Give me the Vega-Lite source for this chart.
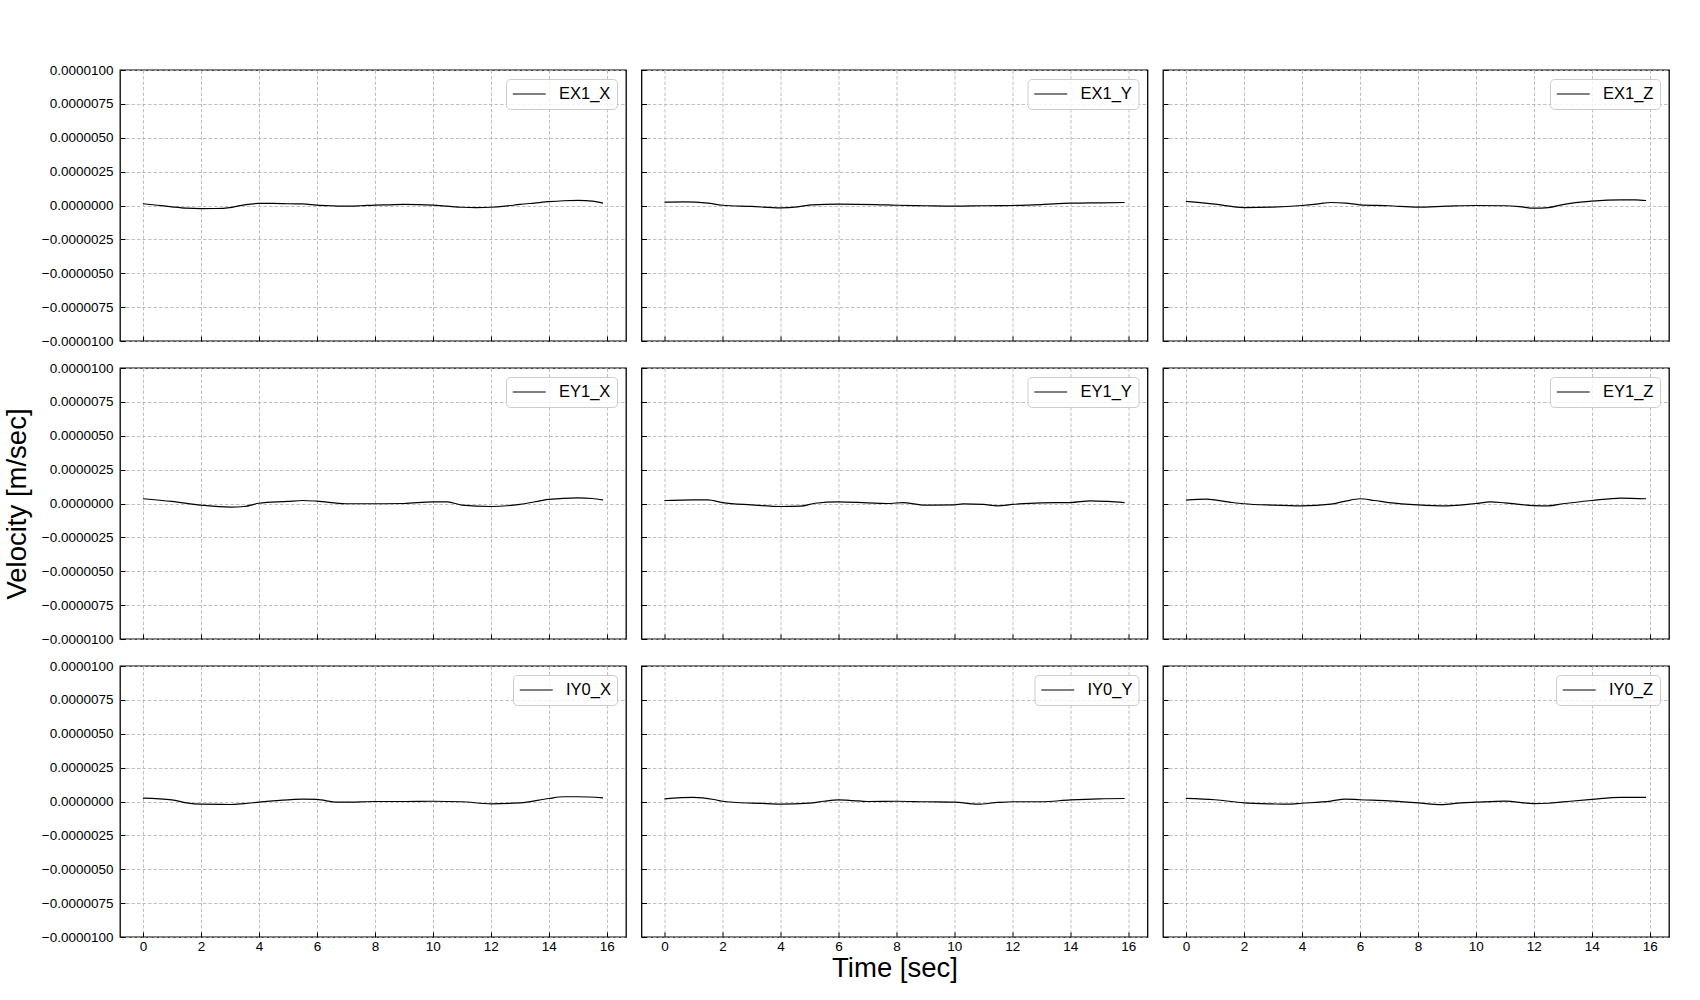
{
  "$schema": "https://vega.github.io/schema/vega-lite/v6.json",
  "padding": {"left": 2, "top": 62, "right": 5, "bottom": 5},
  "background": "white",
  "bounds": "flush",
  "columns": 3,
  "spacing": {"row": 27, "column": 15.5},
  "config": {
    "font": "Liberation Sans",
    "view": {"stroke": "#000000", "strokeWidth": 1.3, "continuousWidth": 506, "continuousHeight": 271},
    "axis": {"labelFont": "Liberation Sans", "labelFontSize": 13.5, "labelColor": "#000000", "titleFont": "Liberation Sans", "titleFontSize": 27.5, "titleFontWeight": "normal", "titleColor": "#000000", "gridColor": "#b0b0b0", "gridDash": [3.5, 2], "gridWidth": 0.8, "domain": false, "tickColor": "#000000", "tickSize": -5, "tickWidth": 1, "minExtent": 0},
    "axisY": {"labelPadding": 12, "titlePadding": 10},
    "axisX": {"labelPadding": 7, "titlePadding": 2},
    "legend": {"orient": "top-right", "offset": 9, "padding": 6, "strokeColor": "#cccccc", "fillColor": "rgba(255,255,255,0.8)", "cornerRadius": 4, "labelFont": "Liberation Sans", "labelFontSize": 16.5, "labelColor": "#000000", "symbolType": "M-1,0H3", "symbolSize": 272, "symbolStrokeWidth": 1.2, "labelOffset": 29}
  },
  "resolve": {"scale": {"color": "independent"}, "legend": {"color": "independent"}},
  "data": {"values": [
    {"s":"EX1_X","t":0,"v":1.3e-7},{"s":"EX1_X","t":0.5,"v":2e-8},{"s":"EX1_X","t":1,"v":-1e-7},{"s":"EX1_X","t":1.5,"v":-2e-7},{"s":"EX1_X","t":2,"v":-2.3e-7},{"s":"EX1_X","t":2.5,"v":-2.2e-7},{"s":"EX1_X","t":3,"v":-1.5e-7},{"s":"EX1_X","t":3.5,"v":5e-8},{"s":"EX1_X","t":4,"v":1.5e-7},{"s":"EX1_X","t":4.5,"v":1.6e-7},{"s":"EX1_X","t":5,"v":1.3e-7},{"s":"EX1_X","t":5.5,"v":1.2e-7},{"s":"EX1_X","t":6,"v":3e-8},{"s":"EX1_X","t":6.5,"v":-2e-8},{"s":"EX1_X","t":7,"v":-5e-8},{"s":"EX1_X","t":7.5,"v":-2e-8},{"s":"EX1_X","t":8,"v":3e-8},{"s":"EX1_X","t":8.5,"v":5e-8},{"s":"EX1_X","t":9,"v":8e-8},{"s":"EX1_X","t":9.5,"v":7e-8},{"s":"EX1_X","t":10,"v":3e-8},{"s":"EX1_X","t":10.5,"v":-5e-8},{"s":"EX1_X","t":11,"v":-1.3e-7},{"s":"EX1_X","t":11.5,"v":-1.5e-7},{"s":"EX1_X","t":12,"v":-1.3e-7},{"s":"EX1_X","t":12.5,"v":-5e-8},{"s":"EX1_X","t":13,"v":8e-8},{"s":"EX1_X","t":13.5,"v":1.8e-7},{"s":"EX1_X","t":14,"v":2.8e-7},{"s":"EX1_X","t":14.5,"v":3.5e-7},{"s":"EX1_X","t":15,"v":3.8e-7},{"s":"EX1_X","t":15.5,"v":3.3e-7},{"s":"EX1_X","t":15.87,"v":1.8e-7},
    {"s":"EX1_Y","t":0,"v":2.5e-7},{"s":"EX1_Y","t":0.7,"v":2.7e-7},{"s":"EX1_Y","t":1.5,"v":1.7e-7},{"s":"EX1_Y","t":2,"v":2e-8},{"s":"EX1_Y","t":3,"v":-7e-8},{"s":"EX1_Y","t":4,"v":-1.7e-7},{"s":"EX1_Y","t":4.6,"v":-1e-7},{"s":"EX1_Y","t":5.1,"v":5e-8},{"s":"EX1_Y","t":6,"v":1e-7},{"s":"EX1_Y","t":7.3,"v":7e-8},{"s":"EX1_Y","t":8,"v":2e-8},{"s":"EX1_Y","t":9,"v":-2e-8},{"s":"EX1_Y","t":10,"v":-5e-8},{"s":"EX1_Y","t":11,"v":-2e-8},{"s":"EX1_Y","t":12,"v":0},{"s":"EX1_Y","t":13,"v":7e-8},{"s":"EX1_Y","t":14,"v":1.7e-7},{"s":"EX1_Y","t":15.1,"v":2e-7},{"s":"EX1_Y","t":15.87,"v":2.2e-7},
    {"s":"EX1_Z","t":0,"v":3e-7},{"s":"EX1_Z","t":1,"v":1e-7},{"s":"EX1_Z","t":2,"v":-1.5e-7},{"s":"EX1_Z","t":3,"v":-1.2e-7},{"s":"EX1_Z","t":4,"v":0},{"s":"EX1_Z","t":4.5,"v":1e-7},{"s":"EX1_Z","t":5,"v":2.2e-7},{"s":"EX1_Z","t":5.5,"v":1.8e-7},{"s":"EX1_Z","t":6,"v":5e-8},{"s":"EX1_Z","t":7,"v":-2e-8},{"s":"EX1_Z","t":8,"v":-1.2e-7},{"s":"EX1_Z","t":9,"v":-5e-8},{"s":"EX1_Z","t":10,"v":0},{"s":"EX1_Z","t":11,"v":-2e-8},{"s":"EX1_Z","t":11.5,"v":-8e-8},{"s":"EX1_Z","t":12,"v":-2e-7},{"s":"EX1_Z","t":12.5,"v":-1.5e-7},{"s":"EX1_Z","t":13,"v":7e-8},{"s":"EX1_Z","t":14,"v":3.2e-7},{"s":"EX1_Z","t":15,"v":4.2e-7},{"s":"EX1_Z","t":15.5,"v":4.2e-7},{"s":"EX1_Z","t":15.87,"v":3.7e-7},
    {"s":"EY1_X","t":0,"v":3.5e-7},{"s":"EY1_X","t":1,"v":1.5e-7},{"s":"EY1_X","t":2,"v":-1.2e-7},{"s":"EY1_X","t":3,"v":-2.7e-7},{"s":"EY1_X","t":3.5,"v":-2.2e-7},{"s":"EY1_X","t":4,"v":2e-8},{"s":"EY1_X","t":5,"v":1.5e-7},{"s":"EY1_X","t":5.5,"v":2.2e-7},{"s":"EY1_X","t":6,"v":1.7e-7},{"s":"EY1_X","t":7,"v":-2e-8},{"s":"EY1_X","t":8,"v":-2e-8},{"s":"EY1_X","t":9,"v":0},{"s":"EY1_X","t":10,"v":1.2e-7},{"s":"EY1_X","t":10.5,"v":1.2e-7},{"s":"EY1_X","t":11,"v":-1.2e-7},{"s":"EY1_X","t":12,"v":-2.2e-7},{"s":"EY1_X","t":13,"v":-7e-8},{"s":"EY1_X","t":14,"v":3e-7},{"s":"EY1_X","t":15,"v":4.2e-7},{"s":"EY1_X","t":15.5,"v":3.7e-7},{"s":"EY1_X","t":15.87,"v":2.7e-7},
    {"s":"EY1_Y","t":0,"v":2.2e-7},{"s":"EY1_Y","t":1,"v":2.7e-7},{"s":"EY1_Y","t":1.5,"v":2.7e-7},{"s":"EY1_Y","t":2,"v":7e-8},{"s":"EY1_Y","t":3,"v":-1e-7},{"s":"EY1_Y","t":4,"v":-2.2e-7},{"s":"EY1_Y","t":4.7,"v":-2e-7},{"s":"EY1_Y","t":5.2,"v":2e-8},{"s":"EY1_Y","t":6,"v":1.2e-7},{"s":"EY1_Y","t":7,"v":5e-8},{"s":"EY1_Y","t":7.8,"v":0},{"s":"EY1_Y","t":8.2,"v":7e-8},{"s":"EY1_Y","t":9,"v":-1.2e-7},{"s":"EY1_Y","t":10,"v":-1e-7},{"s":"EY1_Y","t":10.3,"v":-3e-8},{"s":"EY1_Y","t":11,"v":-7e-8},{"s":"EY1_Y","t":11.5,"v":-1.7e-7},{"s":"EY1_Y","t":12,"v":-7e-8},{"s":"EY1_Y","t":13,"v":5e-8},{"s":"EY1_Y","t":14,"v":7e-8},{"s":"EY1_Y","t":14.7,"v":2e-7},{"s":"EY1_Y","t":15.3,"v":1.5e-7},{"s":"EY1_Y","t":15.87,"v":7e-8},
    {"s":"EY1_Z","t":0,"v":2.5e-7},{"s":"EY1_Z","t":0.7,"v":3.2e-7},{"s":"EY1_Z","t":1.5,"v":1e-7},{"s":"EY1_Z","t":2,"v":-2e-8},{"s":"EY1_Z","t":3,"v":-1.2e-7},{"s":"EY1_Z","t":4,"v":-1.7e-7},{"s":"EY1_Z","t":5,"v":-5e-8},{"s":"EY1_Z","t":5.5,"v":1.7e-7},{"s":"EY1_Z","t":6,"v":3.5e-7},{"s":"EY1_Z","t":6.5,"v":2.2e-7},{"s":"EY1_Z","t":7,"v":7e-8},{"s":"EY1_Z","t":8,"v":-1e-7},{"s":"EY1_Z","t":9,"v":-1.7e-7},{"s":"EY1_Z","t":10,"v":0},{"s":"EY1_Z","t":10.5,"v":1.2e-7},{"s":"EY1_Z","t":11,"v":5e-8},{"s":"EY1_Z","t":12,"v":-1.5e-7},{"s":"EY1_Z","t":12.5,"v":-1.7e-7},{"s":"EY1_Z","t":13,"v":-2e-8},{"s":"EY1_Z","t":14,"v":2.2e-7},{"s":"EY1_Z","t":15,"v":4e-7},{"s":"EY1_Z","t":15.87,"v":3.5e-7},
    {"s":"IY0_X","t":0,"v":2.5e-7},{"s":"IY0_X","t":1,"v":1.2e-7},{"s":"IY0_X","t":1.5,"v":-1e-7},{"s":"IY0_X","t":2,"v":-2e-7},{"s":"IY0_X","t":3,"v":-2.2e-7},{"s":"IY0_X","t":3.5,"v":-1.5e-7},{"s":"IY0_X","t":4,"v":-5e-8},{"s":"IY0_X","t":5,"v":1.2e-7},{"s":"IY0_X","t":5.5,"v":1.7e-7},{"s":"IY0_X","t":6,"v":1.5e-7},{"s":"IY0_X","t":6.7,"v":-5e-8},{"s":"IY0_X","t":7,"v":-5e-8},{"s":"IY0_X","t":8,"v":0},{"s":"IY0_X","t":9,"v":0},{"s":"IY0_X","t":10,"v":2e-8},{"s":"IY0_X","t":11,"v":-2e-8},{"s":"IY0_X","t":12,"v":-1.7e-7},{"s":"IY0_X","t":13,"v":-1e-7},{"s":"IY0_X","t":14,"v":2.2e-7},{"s":"IY0_X","t":14.5,"v":3.5e-7},{"s":"IY0_X","t":15,"v":3.5e-7},{"s":"IY0_X","t":15.87,"v":2.7e-7},
    {"s":"IY0_Y","t":0,"v":2e-7},{"s":"IY0_Y","t":1,"v":3e-7},{"s":"IY0_Y","t":1.7,"v":1.5e-7},{"s":"IY0_Y","t":2,"v":2e-8},{"s":"IY0_Y","t":3,"v":-1.2e-7},{"s":"IY0_Y","t":3.5,"v":-1.5e-7},{"s":"IY0_Y","t":4,"v":-2e-7},{"s":"IY0_Y","t":5,"v":-1.2e-7},{"s":"IY0_Y","t":5.5,"v":2e-8},{"s":"IY0_Y","t":6,"v":1.2e-7},{"s":"IY0_Y","t":6.5,"v":7e-8},{"s":"IY0_Y","t":7,"v":0},{"s":"IY0_Y","t":8,"v":2e-8},{"s":"IY0_Y","t":9,"v":-2e-8},{"s":"IY0_Y","t":10,"v":-5e-8},{"s":"IY0_Y","t":10.8,"v":-2e-7},{"s":"IY0_Y","t":11.5,"v":-7e-8},{"s":"IY0_Y","t":12,"v":-2e-8},{"s":"IY0_Y","t":13,"v":-2e-8},{"s":"IY0_Y","t":14,"v":1.2e-7},{"s":"IY0_Y","t":15,"v":2e-7},{"s":"IY0_Y","t":15.87,"v":2.2e-7},
    {"s":"IY0_Z","t":0,"v":2.3e-7},{"s":"IY0_Z","t":1,"v":1.3e-7},{"s":"IY0_Z","t":2,"v":-1e-7},{"s":"IY0_Z","t":3,"v":-1.8e-7},{"s":"IY0_Z","t":3.5,"v":-2e-7},{"s":"IY0_Z","t":4,"v":-1.3e-7},{"s":"IY0_Z","t":5,"v":3e-8},{"s":"IY0_Z","t":5.5,"v":1.8e-7},{"s":"IY0_Z","t":6,"v":1.3e-7},{"s":"IY0_Z","t":7,"v":5e-8},{"s":"IY0_Z","t":8,"v":-1e-7},{"s":"IY0_Z","t":8.8,"v":-2.3e-7},{"s":"IY0_Z","t":9.5,"v":-1e-7},{"s":"IY0_Z","t":10,"v":-5e-8},{"s":"IY0_Z","t":11,"v":3e-8},{"s":"IY0_Z","t":12,"v":-1.6e-7},{"s":"IY0_Z","t":12.5,"v":-1.3e-7},{"s":"IY0_Z","t":13,"v":-3e-8},{"s":"IY0_Z","t":14,"v":1.6e-7},{"s":"IY0_Z","t":15,"v":3.1e-7},{"s":"IY0_Z","t":15.87,"v":3.1e-7}
  ]},
  "concat": [
    {"width": 506, "height": 271, "transform": [{"filter": "datum.s === 'EX1_X'"}], "mark": {"type": "line", "strokeWidth": 1.2, "interpolate": "monotone"},
     "encoding": {"x": {"field": "t", "type": "quantitative", "scale": {"domain": [-0.79, 16.66], "nice": false, "zero": false}, "axis": {"values": [0,2,4,6,8,10,12,14,16], "labels": false, "title": null}},
                  "y": {"field": "v", "type": "quantitative", "scale": {"domain": [-1e-5, 1e-5], "nice": false}, "axis": {"values": [-1e-5,-7.5e-6,-5e-6,-2.5e-6,0,2.5e-6,5e-6,7.5e-6,1e-5], "format": ".7f", "title": null}},
                  "color": {"field": "s", "type": "nominal", "scale": {"range": ["#000000"]}, "legend": {"title": null}}}},
    {"width": 506, "height": 271, "transform": [{"filter": "datum.s === 'EX1_Y'"}], "mark": {"type": "line", "strokeWidth": 1.2, "interpolate": "monotone"},
     "encoding": {"x": {"field": "t", "type": "quantitative", "scale": {"domain": [-0.79, 16.66], "nice": false, "zero": false}, "axis": {"values": [0,2,4,6,8,10,12,14,16], "labels": false, "title": null}},
                  "y": {"field": "v", "type": "quantitative", "scale": {"domain": [-1e-5, 1e-5], "nice": false}, "axis": {"values": [-1e-5,-7.5e-6,-5e-6,-2.5e-6,0,2.5e-6,5e-6,7.5e-6,1e-5], "labels": false, "title": null}},
                  "color": {"field": "s", "type": "nominal", "scale": {"range": ["#000000"]}, "legend": {"title": null}}}},
    {"width": 506, "height": 271, "transform": [{"filter": "datum.s === 'EX1_Z'"}], "mark": {"type": "line", "strokeWidth": 1.2, "interpolate": "monotone"},
     "encoding": {"x": {"field": "t", "type": "quantitative", "scale": {"domain": [-0.79, 16.66], "nice": false, "zero": false}, "axis": {"values": [0,2,4,6,8,10,12,14,16], "labels": false, "title": null}},
                  "y": {"field": "v", "type": "quantitative", "scale": {"domain": [-1e-5, 1e-5], "nice": false}, "axis": {"values": [-1e-5,-7.5e-6,-5e-6,-2.5e-6,0,2.5e-6,5e-6,7.5e-6,1e-5], "labels": false, "title": null}},
                  "color": {"field": "s", "type": "nominal", "scale": {"range": ["#000000"]}, "legend": {"title": null}}}},
    {"width": 506, "height": 271, "transform": [{"filter": "datum.s === 'EY1_X'"}], "mark": {"type": "line", "strokeWidth": 1.2, "interpolate": "monotone"},
     "encoding": {"x": {"field": "t", "type": "quantitative", "scale": {"domain": [-0.79, 16.66], "nice": false, "zero": false}, "axis": {"values": [0,2,4,6,8,10,12,14,16], "labels": false, "title": null}},
                  "y": {"field": "v", "type": "quantitative", "scale": {"domain": [-1e-5, 1e-5], "nice": false}, "axis": {"values": [-1e-5,-7.5e-6,-5e-6,-2.5e-6,0,2.5e-6,5e-6,7.5e-6,1e-5], "format": ".7f", "title": "Velocity [m/sec]"}},
                  "color": {"field": "s", "type": "nominal", "scale": {"range": ["#000000"]}, "legend": {"title": null}}}},
    {"width": 506, "height": 271, "transform": [{"filter": "datum.s === 'EY1_Y'"}], "mark": {"type": "line", "strokeWidth": 1.2, "interpolate": "monotone"},
     "encoding": {"x": {"field": "t", "type": "quantitative", "scale": {"domain": [-0.79, 16.66], "nice": false, "zero": false}, "axis": {"values": [0,2,4,6,8,10,12,14,16], "labels": false, "title": null}},
                  "y": {"field": "v", "type": "quantitative", "scale": {"domain": [-1e-5, 1e-5], "nice": false}, "axis": {"values": [-1e-5,-7.5e-6,-5e-6,-2.5e-6,0,2.5e-6,5e-6,7.5e-6,1e-5], "labels": false, "title": null}},
                  "color": {"field": "s", "type": "nominal", "scale": {"range": ["#000000"]}, "legend": {"title": null}}}},
    {"width": 506, "height": 271, "transform": [{"filter": "datum.s === 'EY1_Z'"}], "mark": {"type": "line", "strokeWidth": 1.2, "interpolate": "monotone"},
     "encoding": {"x": {"field": "t", "type": "quantitative", "scale": {"domain": [-0.79, 16.66], "nice": false, "zero": false}, "axis": {"values": [0,2,4,6,8,10,12,14,16], "labels": false, "title": null}},
                  "y": {"field": "v", "type": "quantitative", "scale": {"domain": [-1e-5, 1e-5], "nice": false}, "axis": {"values": [-1e-5,-7.5e-6,-5e-6,-2.5e-6,0,2.5e-6,5e-6,7.5e-6,1e-5], "labels": false, "title": null}},
                  "color": {"field": "s", "type": "nominal", "scale": {"range": ["#000000"]}, "legend": {"title": null}}}},
    {"width": 506, "height": 271, "transform": [{"filter": "datum.s === 'IY0_X'"}], "mark": {"type": "line", "strokeWidth": 1.2, "interpolate": "monotone"},
     "encoding": {"x": {"field": "t", "type": "quantitative", "scale": {"domain": [-0.79, 16.66], "nice": false, "zero": false}, "axis": {"values": [0,2,4,6,8,10,12,14,16], "format": "d", "title": null}},
                  "y": {"field": "v", "type": "quantitative", "scale": {"domain": [-1e-5, 1e-5], "nice": false}, "axis": {"values": [-1e-5,-7.5e-6,-5e-6,-2.5e-6,0,2.5e-6,5e-6,7.5e-6,1e-5], "format": ".7f", "title": null}},
                  "color": {"field": "s", "type": "nominal", "scale": {"range": ["#000000"]}, "legend": {"title": null}}}},
    {"width": 506, "height": 271, "transform": [{"filter": "datum.s === 'IY0_Y'"}], "mark": {"type": "line", "strokeWidth": 1.2, "interpolate": "monotone"},
     "encoding": {"x": {"field": "t", "type": "quantitative", "scale": {"domain": [-0.79, 16.66], "nice": false, "zero": false}, "axis": {"values": [0,2,4,6,8,10,12,14,16], "format": "d", "title": "Time [sec]"}},
                  "y": {"field": "v", "type": "quantitative", "scale": {"domain": [-1e-5, 1e-5], "nice": false}, "axis": {"values": [-1e-5,-7.5e-6,-5e-6,-2.5e-6,0,2.5e-6,5e-6,7.5e-6,1e-5], "labels": false, "title": null}},
                  "color": {"field": "s", "type": "nominal", "scale": {"range": ["#000000"]}, "legend": {"title": null}}}},
    {"width": 506, "height": 271, "transform": [{"filter": "datum.s === 'IY0_Z'"}], "mark": {"type": "line", "strokeWidth": 1.2, "interpolate": "monotone"},
     "encoding": {"x": {"field": "t", "type": "quantitative", "scale": {"domain": [-0.79, 16.66], "nice": false, "zero": false}, "axis": {"values": [0,2,4,6,8,10,12,14,16], "format": "d", "title": null}},
                  "y": {"field": "v", "type": "quantitative", "scale": {"domain": [-1e-5, 1e-5], "nice": false}, "axis": {"values": [-1e-5,-7.5e-6,-5e-6,-2.5e-6,0,2.5e-6,5e-6,7.5e-6,1e-5], "labels": false, "title": null}},
                  "color": {"field": "s", "type": "nominal", "scale": {"range": ["#000000"]}, "legend": {"title": null}}}}
  ]
}
